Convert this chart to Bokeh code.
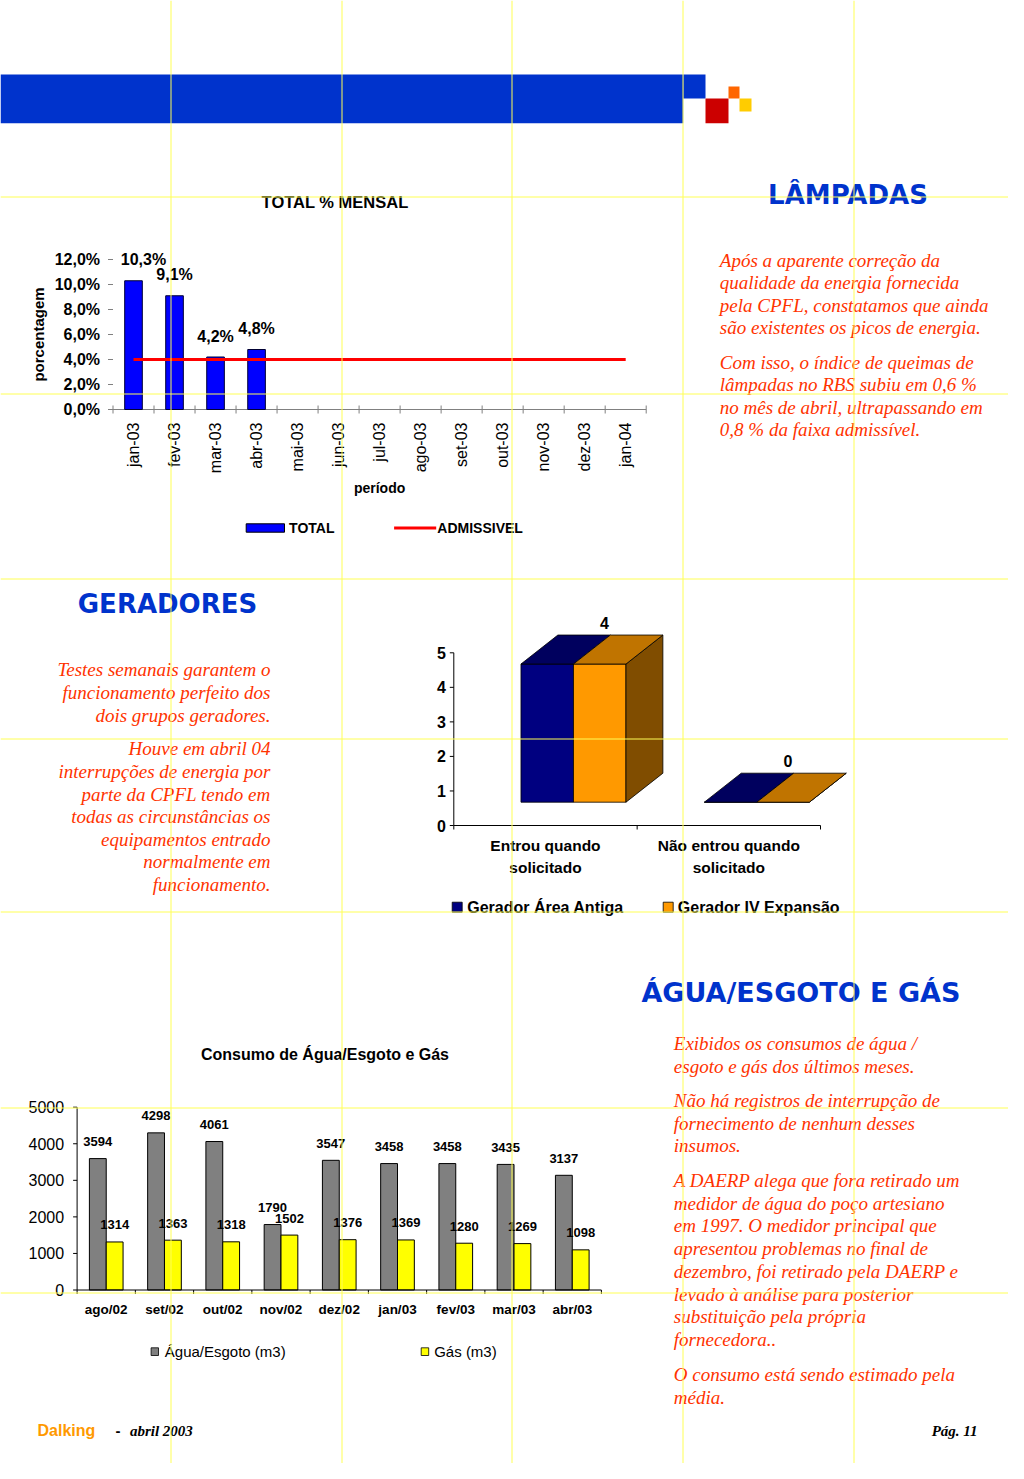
import math
from bokeh.plotting import figure
from bokeh.models import Range1d
from bokeh.core.properties import value
from bokeh.embed import file_html
from bokeh.resources import INLINE

# ---------------- data ----------------
lamp_months = ["jan-03", "fev-03", "mar-03", "abr-03", "mai-03", "jun-03", "jul-03",
               "ago-03", "set-03", "out-03", "nov-03", "dez-03", "jan-04"]
lamp_total = [10.3, 9.1, 4.2, 4.8]
lamp_admissivel = [4.0, 4.0, 4.0, 4.0, 4.0, 4.0, 4.0, 4.0, 4.0, 4.0, 4.0, 4.0, 4.0]
lamp_yticks = [0, 2, 4, 6, 8, 10, 12]

ger_cat_line1 = ["Entrou quando", "Não entrou quando"]
ger_cat_line2 = ["solicitado", "solicitado"]
ger_antiga = [4, 0]
ger_expansao = [4, 0]
ger_yticks = [0, 1, 2, 3, 4, 5]

agua_months = ["ago/02", "set/02", "out/02", "nov/02", "dez/02", "jan/03", "fev/03", "mar/03", "abr/03"]
agua_esgoto = [3594, 4298, 4061, 1790, 3547, 3458, 3458, 3435, 3137]
agua_gas = [1314, 1363, 1318, 1502, 1376, 1369, 1280, 1269, 1098]
agua_yticks = [0, 1000, 2000, 3000, 4000, 5000]

lamp_par = [
    ["Após a aparente correção da", "qualidade da energia fornecida",
     "pela CPFL, constatamos que ainda", "são existentes os picos de energia."],
    ["Com isso, o índice de queimas de", "lâmpadas  no RBS subiu em 0,6 %",
     "no mês de abril, ultrapassando em", "0,8 % da faixa admissível."],
]
ger_par = [
    ["Testes semanais garantem o", "funcionamento perfeito dos", "dois grupos geradores."],
    ["Houve em abril 04", "interrupções de energia por", "parte da CPFL tendo em",
     "todas as circunstâncias os", "equipamentos entrado", "normalmente em", "funcionamento."],
]
agua_par = [
    ["Exibidos os consumos de água /", "esgoto e gás dos últimos meses."],
    ["Não há registros de interrupção de", "fornecimento de nenhum desses", "insumos."],
    ["A DAERP alega que fora retirado um", "medidor de água do poço artesiano",
     "em 1997. O medidor principal que", "apresentou problemas no final de",
     "dezembro, foi retirado pela DAERP e", "levado à análise para posterior",
     "substituição pela própria", "fornecedora.."],
    ["O consumo está sendo estimado pela", "média."],
]

SANS = value("Liberation Sans")
SERIF = value("Liberation Serif")
HEAD = value("DejaVu Sans")
RED_TXT = "#ff3300"
BLUE_HEAD = "#0033cc"

# ---------------- page ----------------
W, H = 1008, 1463
p = figure(width=W, height=H, x_range=Range1d(0, W), y_range=Range1d(H, 0),
           output_backend="svg", toolbar_location=None, tools="", min_border=0,
           x_axis_location=None, y_axis_location=None)
p.outline_line_color = None
p.background_fill_color = "white"
p.border_fill_color = "white"
for g in p.grid:
    g.visible = False


def ptext(x, y, txt, size, color="black", font=SANS, style="normal", align="left",
          baseline="middle", angle=0):
    p.text(x=x, y=y, text=txt, text_font=font, text_font_size=size, text_color=color,
           text_font_style=style, text_align=align, text_baseline=baseline, angle=angle)


def make_sub(xs, ys, xt, yt):
    sub = p.subplot(x_source=Range1d(*xs), y_source=Range1d(*ys),
                    x_target=Range1d(*xt), y_target=Range1d(*yt))
    kx = (xt[1] - xt[0]) / (xs[1] - xs[0])
    ky = (yt[0] - yt[1]) / (ys[1] - ys[0])
    return sub, kx, ky


# header bar and logo squares
p.quad(left=[0, 682.7, 705, 728, 739], right=[682.7, 705, 728, 739, 751],
       top=[74, 74, 98, 86, 98], bottom=[122.7, 98, 122.7, 98, 111],
       fill_color=["#0033cc", "#0033cc", "#cc0000", "#ff6600", "#ffcc00"], line_color=None)

# ---------------- chart 1: TOTAL % MENSAL ----------------
s1, kx1, ky1 = make_sub((0, 13), (0, 12), (112.5, 645.7), (409, 259))
n1 = len(lamp_months)
c1 = [i + 0.5 for i in range(n1)]
s1.segment(x0=[0], y0=[0], x1=[n1], y1=[0], line_color="#808080", line_width=1)
th = 4 / ky1
s1.segment(x0=list(range(n1 + 1)), y0=[-th] * (n1 + 1), x1=list(range(n1 + 1)), y1=[th] * (n1 + 1),
           line_color="#808080", line_width=1)
s1.segment(x0=[-5 / kx1] * len(lamp_yticks), y0=lamp_yticks, x1=[0] * len(lamp_yticks), y1=lamp_yticks,
           line_color="#808080", line_width=1)
s1.vbar(x=c1[:len(lamp_total)], top=lamp_total, bottom=0, width=0.43,
        fill_color="#0000ff", line_color="#000033", line_width=1)
s1.line(x=c1, y=lamp_admissivel, line_color="#ff0000", line_width=3)
s1.text(x=[0] * len(lamp_yticks), y=lamp_yticks,
        text=[f"{v:.1f}%".replace(".", ",") for v in lamp_yticks],
        x_offset=-13, text_align="right", text_baseline="middle",
        text_font=SANS, text_font_size="16px", text_font_style="bold")
s1.text(x=c1[:len(lamp_total)], y=lamp_total,
        text=[f"{v:.1f}%".replace(".", ",") for v in lamp_total],
        x_offset=[10, 0, 0, 0], y_offset=-21, text_align="center", text_baseline="middle",
        text_font=SANS, text_font_size="16px", text_font_style="bold")
s1.text(x=c1, y=[0] * n1, text=lamp_months, angle=math.pi / 2, y_offset=13,
        text_align="right", text_baseline="middle", text_font=SANS, text_font_size="16px")
s1.text(x=[n1 / 2], y=[0], text=["período"], y_offset=78, text_align="center",
        text_baseline="middle", text_font=SANS, text_font_size="14px", text_font_style="bold")
s1.text(x=[0], y=[6], text=["porcentagem"], x_offset=-75, angle=math.pi / 2,
        text_align="center", text_baseline="middle", text_font=SANS, text_font_size="15px",
        text_font_style="bold")
ptext([334.6], [201], ["TOTAL % MENSAL"], "16.5px", style="bold", align="center")
# legend
p.quad(left=[245.7], right=[284], top=[523.3], bottom=[531.7], fill_color="#0000ff", line_color="black")
p.segment(x0=[393.6], y0=[527.5], x1=[435.7], y1=[527.5], line_color="#ff0000", line_width=3)
ptext([288.6, 436.8], [527, 527], ["TOTAL", "ADMISSIVEL"], "14px", style="bold")

# ---------------- chart 2: geradores 3D ----------------
s2, kx2, ky2 = make_sub((0, 2), (0, 5), (453.3, 820), (825, 652.3))
ox, oy = 28 / kx2, 23.3 / ky2
bw = 52.5 / kx2
ddx, ddy = 36.9 / kx2, 29 / ky2
xs, ys, fc = [], [], []
for i in range(len(ger_antiga)):
    c = i + 0.5 + ox
    va, ve = ger_antiga[i], ger_expansao[i]
    # front faces
    xs += [[c - bw, c, c, c - bw], [c, c + bw, c + bw, c]]
    ys += [[oy, oy, oy + va, oy + va], [oy, oy, oy + ve, oy + ve]]
    fc += ["#000080", "#ff9900"]
    # side face of right bar
    xs.append([c + bw, c + bw + ddx, c + bw + ddx, c + bw])
    ys.append([oy, oy + ddy, oy + ve + ddy, oy + ve])
    fc.append("#804d00")
    # top faces
    xs += [[c - bw, c, c + ddx, c - bw + ddx], [c, c + bw, c + bw + ddx, c + ddx]]
    ys += [[oy + va, oy + va, oy + va + ddy, oy + va + ddy], [oy + ve, oy + ve, oy + ve + ddy, oy + ve + ddy]]
    fc += ["#00005e", "#c07400"]
s2.patches(xs=xs, ys=ys, fill_color=fc, line_color="black", line_width=0.8)
s2.text(x=[i + 0.5 + ox + 31 / kx2 for i in range(len(ger_expansao))],
        y=[v + oy + ddy for v in ger_expansao], text=[str(v) for v in ger_expansao],
        y_offset=-12, text_align="center", text_baseline="middle",
        text_font=SANS, text_font_size="16px", text_font_style="bold")
s2.segment(x0=[0, 0], y0=[0, 0], x1=[0, 2], y1=[5, 0], line_color="black", line_width=1)
s2.segment(x0=[-4 / kx2] * len(ger_yticks), y0=ger_yticks, x1=[0] * len(ger_yticks), y1=ger_yticks,
           line_color="black", line_width=1)
s2.segment(x0=[0, 1, 2], y0=[0, 0, 0], x1=[0, 1, 2], y1=[-4 / ky2] * 3, line_color="black", line_width=1)
s2.text(x=[0] * len(ger_yticks), y=ger_yticks, text=[str(v) for v in ger_yticks], x_offset=-8,
        text_align="right", text_baseline="middle", text_font=SANS, text_font_size="16px",
        text_font_style="bold")
s2.text(x=[0.5, 1.5], y=[0, 0], text=ger_cat_line1, y_offset=20, text_align="center",
        text_baseline="middle", text_font=SANS, text_font_size="15.5px", text_font_style="bold")
s2.text(x=[0.5, 1.5], y=[0, 0], text=ger_cat_line2, y_offset=42, text_align="center",
        text_baseline="middle", text_font=SANS, text_font_size="15.5px", text_font_style="bold")
p.quad(left=[451.7, 662.7], right=[461.7, 672.7], top=[901.7, 901.7], bottom=[911.7, 911.7],
       fill_color=["#000080", "#ff9900"], line_color="black", line_width=0.8)
ptext([466.7, 677.3], [907, 907], ["Gerador Área Antiga", "Gerador IV Expansão"], "16px", style="bold")

# ---------------- chart 3: agua / gas ----------------
s3, kx3, ky3 = make_sub((0, 9), (0, 5000), (76.6, 600.9), (1289.5, 1106.7))
n3 = len(agua_months)
c3 = [i + 0.5 for i in range(n3)]
s3.vbar(x=[c - 0.1445 for c in c3], top=agua_esgoto, bottom=0, width=0.289,
        fill_color="#808080", line_color="black", line_width=1)
s3.vbar(x=[c + 0.1445 for c in c3], top=agua_gas, bottom=0, width=0.289,
        fill_color="#ffff00", line_color="black", line_width=1)
s3.segment(x0=[0, 0], y0=[0, 0], x1=[0, n3], y1=[5000, 0], line_color="black", line_width=1)
s3.segment(x0=[-4 / kx3] * len(agua_yticks), y0=agua_yticks, x1=[0] * len(agua_yticks), y1=agua_yticks,
           line_color="black", line_width=1)
s3.segment(x0=list(range(n3 + 1)), y0=[0] * (n3 + 1), x1=list(range(n3 + 1)), y1=[-4 / ky3] * (n3 + 1),
           line_color="black", line_width=1)
s3.text(x=[0] * len(agua_yticks), y=agua_yticks, text=[str(v) for v in agua_yticks], x_offset=-13,
        text_align="right", text_baseline="middle", text_font=SANS, text_font_size="16px")
s3.text(x=c3, y=[0] * n3, text=agua_months, y_offset=19, text_align="center", text_baseline="middle",
        text_font=SANS, text_font_size="13.5px", text_font_style="bold")
s3.text(x=[c - 0.1445 for c in c3], y=agua_esgoto, text=[str(v) for v in agua_esgoto], y_offset=-17,
        text_align="center", text_baseline="middle", text_font=SANS, text_font_size="13px",
        text_font_style="bold")
s3.text(x=[c + 0.1445 for c in c3], y=agua_gas, text=[str(v) for v in agua_gas], y_offset=-17,
        text_align="center", text_baseline="middle", text_font=SANS, text_font_size="13px",
        text_font_style="bold")
ptext([324.5], [1054], ["Consumo de Água/Esgoto e Gás"], "16px", style="bold", align="center")
p.quad(left=[150.6, 420.7], right=[158, 428.2], top=[1347.3, 1347.3], bottom=[1355, 1355],
       fill_color=["#808080", "#ffff00"], line_color="black", line_width=0.8)
ptext([164.3, 433.7], [1351, 1351], ["Água/Esgoto (m3)", "Gás (m3)"], "15px")

# ---------------- headings & paragraphs ----------------
ptext([847.5], [194], ["LÂMPADAS"], "26px", color=BLUE_HEAD, font=HEAD, style="bold",
      align="center")
ptext([167], [603], ["GERADORES"], "26px", color=BLUE_HEAD, font=HEAD, style="bold",
      align="center")
ptext([800.4], [991.5], ["ÁGUA/ESGOTO E GÁS"], "27px", color=BLUE_HEAD, font=HEAD, style="bold",
      align="center")


def paragraphs(pars, starts, x, align, step=22.6):
    for lines, y0 in zip(pars, starts):
        ptext([x] * len(lines), [y0 + k * step for k in range(len(lines))], lines, "19px",
              color=RED_TXT, font=SERIF, style="italic", align=align)


paragraphs(lamp_par, [259.7, 361.7], 719.3, "left", 22.4)
paragraphs(ger_par, [669.3, 748.3], 270, "right", 22.6)
paragraphs(agua_par, [1043.3, 1100, 1180, 1374], 673.3, "left", 22.7)

# footer
ptext([37], [1430], ["Dalking"], "16px", color="#ff9900", style="bold")
ptext([117.6], [1430], ["-"], "15px", style="bold", align="center")
ptext([129.4], [1430], ["abril 2003"], "15px", font=SERIF, style="bold italic")
ptext([977], [1430], ["Pág. 11"], "15px", font=SERIF, style="bold italic", align="right")

# guide lines
vx = [170.5, 341.5, 511.5, 682.5, 853.5]
hy = [196.5, 393.5, 578.5, 738.5, 911.5, 1107.5, 1292.5]
p.segment(x0=vx, y0=[0] * len(vx), x1=vx, y1=[H] * len(vx), line_color="#ffff55", line_width=1)
p.segment(x0=[0] * len(hy), y0=hy, x1=[W] * len(hy), y1=hy, line_color="#ffff55", line_width=1)

open("out.html", "w").write(file_html(p, INLINE))
